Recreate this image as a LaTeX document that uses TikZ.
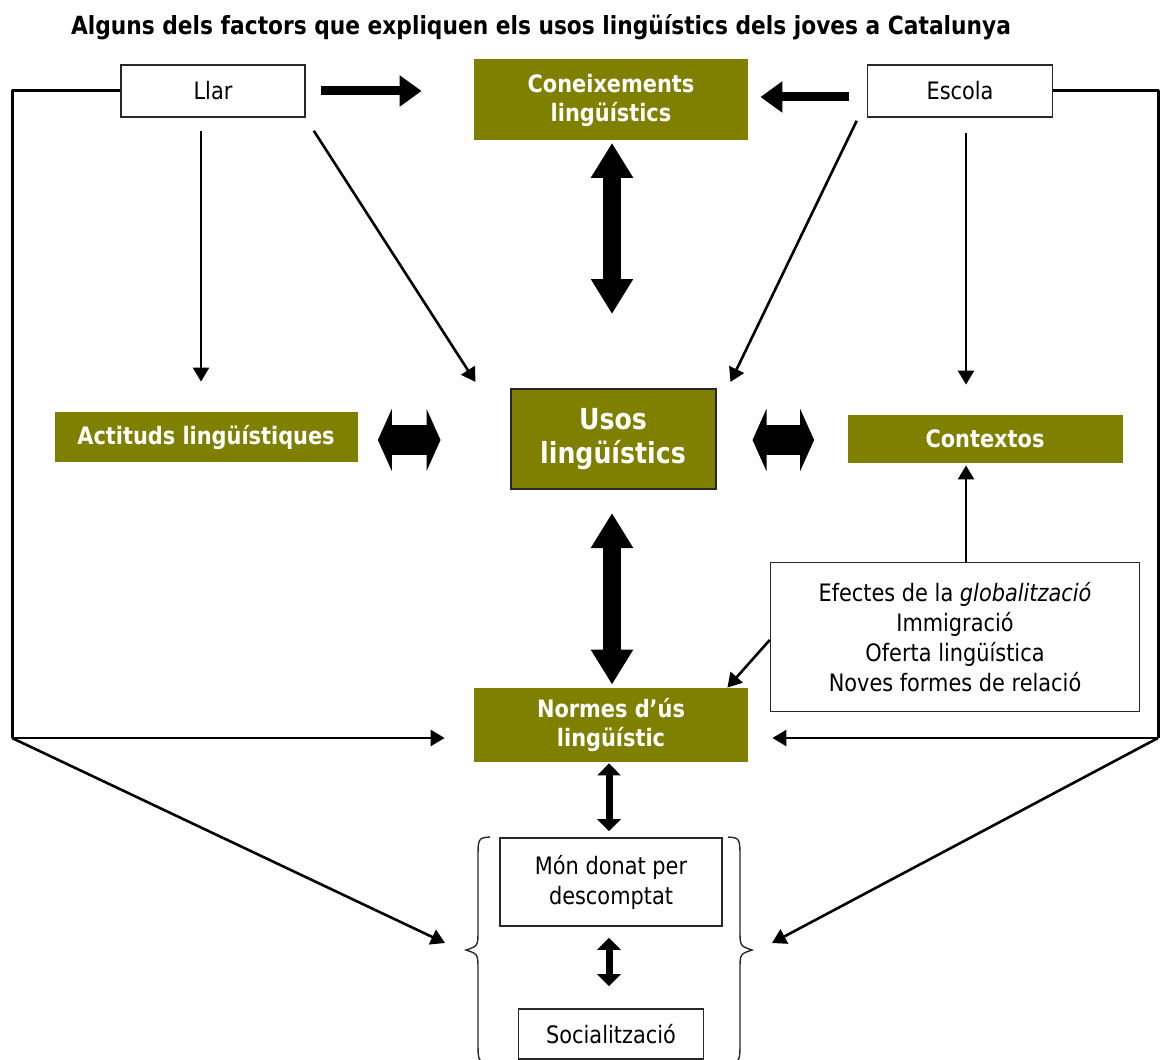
\documentclass[tikz,border=0pt]{standalone}
\usepackage{fontspec}
\setmainfont[FakeStretch=0.87]{DejaVu Sans}
\usepackage{xcolor}
\usetikzlibrary{arrows.meta}
\definecolor{uolive}{RGB}{128,128,0}
\definecolor{uframe}{RGB}{40,40,40}

\tikzset{
	whitebox/.style={draw=uframe, line width=0.8pt, fill=white, align=center, inner sep=0pt, font=\fontsize{12}{15}\selectfont},
	olivebox/.style={fill=uolive, text=white, align=center, inner sep=0pt, font=\fontsize{12}{14.5}\selectfont\bfseries},
	frameline/.style={line width=1.5pt, line join=round},
	thinarrow/.style={line width=1.3pt, -{Triangle[length=7pt,width=8pt]}},
	fatarrow/.style={line width=4.5pt, -{Triangle[length=11pt,width=15pt]}},
	tallarrow/.style={line width=9pt, {Triangle[length=17.5pt,width=20pt]}-{Triangle[length=17.5pt,width=20pt]}},
	widearrow/.style={line width=15pt, {Triangle[length=7pt,width=31pt]}-{Triangle[length=7pt,width=31pt]}},
	smallarrow/.style={line width=3.5pt, {Triangle[length=6pt,width=11.5pt]}-{Triangle[length=6pt,width=11.5pt]}},
	curly/.style={draw=uframe, line width=0.7pt}
}

\begin{document}
\begin{tikzpicture}[x=0.5pt, y=-0.5pt]
	\useasboundingbox (0,0) rectangle (1160,1059);
	
	\node[font=\fontsize{12.5}{15}\selectfont\bfseries] (title) at (541,27) {Alguns dels factors que expliquen els usos lingüístics dels joves a Catalunya};
	
	% top row
	\node[whitebox, minimum width=92pt, minimum height=26pt] (llar) at (213,91) {Llar};
	\node[olivebox, minimum width=137pt, minimum height=40.5pt] (coneix) at (611,100) {Coneixements\\lingüístics};
	\node[whitebox, minimum width=92.5pt, minimum height=26pt] (escola) at (960,91) {Escola};
	
	% middle row
	\node[olivebox, minimum width=151.5pt, minimum height=25pt] (actituds) at (206,437) {Actituds lingüístiques};
	\node[olivebox, draw=uframe, line width=1pt, minimum width=102.5pt, minimum height=50pt, font=\fontsize{14.5}{17}\selectfont\bfseries] (usos) at (613,439) {Usos\\lingüístics};
	\node[olivebox, minimum width=137.5pt, minimum height=24pt] (contextos) at (985,439) {Contextos};
	
	\node[whitebox, minimum width=184.5pt, minimum height=74.5pt] (efectes) at (955,637) {Efectes de la \textit{globalització}\\Immigració\\Oferta lingüística\\Noves formes de relació};
	\node[olivebox, minimum width=137pt, minimum height=37pt] (normes) at (611,725) {Normes d’ús\\lingüístic};
	
	% bottom group
	\node[whitebox, minimum width=111pt, minimum height=44pt] (mon) at (611,882) {Món donat per\\descomptat};
	\node[whitebox, minimum width=92.5pt, minimum height=25pt] (social) at (611,1034) {Socialització};
	
	\draw[curly] (490,837) .. controls (478,838) .. (478,860) -- (478,930) .. controls (478,946) .. (466,950) .. controls (478,954) .. (478,970) -- (478,1040) .. controls (478,1062) .. (490,1063);
	\draw[curly] (728,837) .. controls (740,838) .. (740,860) -- (740,930) .. controls (740,946) .. (752,950) .. controls (740,954) .. (740,970) -- (740,1040) .. controls (740,1062) .. (728,1063);
	
	\coordinate (lc) at (12,738);
	\coordinate (rc) at (1158,738);
	\coordinate (lb) at (445,943);
	\coordinate (rb) at (772,943);
	
	% Llar and Escola
	\draw[fatarrow, shorten <=7.5pt, shorten >=26pt] (llar.east) -- (llar.east -| coneix.west);
	\draw[fatarrow, shorten <=9pt, shorten >=6pt] ([yshift=-3pt]escola.west) -- ([yshift=-3pt]escola.west -| coneix.east);
	\draw[thinarrow, shorten <=6.5pt, shorten >=15pt] ([xshift=-6pt]llar.south) -- ([xshift=-6pt]llar.south |- actituds.north);
	\draw[thinarrow] ([xshift=4pt,yshift=-6.5pt]llar.south east) -- ([xshift=-17pt,yshift=3pt]usos.north west);
	\draw[thinarrow] ([xshift=-5pt,yshift=-1.5pt]escola.south west) -- ([xshift=7pt,yshift=3pt]usos.north east);
	\draw[thinarrow, shorten <=7.5pt, shorten >=15pt] ([xshift=3pt]escola.south) -- ([xshift=3pt]escola.south |- contextos.north);
	
	\draw[frameline] (llar.west) -| (lc);
	\draw[frameline] (escola.east) -| (rc);
	\draw[thinarrow, shorten >=14.5pt] (lc) -- (lc -| normes.west);
	\draw[thinarrow] (lc) -- (lb);
	\draw[thinarrow, shorten >=12pt] (rc) -- (rc -| normes.east);
	\draw[thinarrow] (rc) -- (rb);
	
	% big double arrows
	\draw[tallarrow, shorten <=1pt, shorten >=37pt] ([xshift=0.5pt]coneix.south) -- ([xshift=0.5pt]coneix.south |- usos.north);
	\draw[tallarrow, shorten <=11.5pt, shorten >=1.5pt] ([xshift=-0.5pt]usos.south) -- ([xshift=-0.5pt]usos.south |- normes.north);
	\draw[widearrow, shorten <=10pt, shorten >=34.5pt] ([yshift=-1.5pt]actituds.east) -- ([yshift=-1.5pt]actituds.east -| usos.west);
	\draw[widearrow, shorten <=18pt, shorten >=16.5pt] ([yshift=-0.5pt]usos.east) -- ([yshift=-0.5pt]usos.east -| contextos.west);
	
	\draw[thinarrow, shorten >=1pt] ([xshift=5.5pt]efectes.north) -- ([xshift=5.5pt]efectes.north |- contextos.south);
	\draw[thinarrow] ([yshift=-1.5pt]efectes.west) -- ([xshift=-10.5pt]normes.north east);
	
	\draw[smallarrow, shorten <=0.5pt, shorten >=3pt] ([xshift=-1pt]normes.south) -- ([xshift=-1pt]mon.north);
	\draw[smallarrow, shorten <=5.5pt, shorten >=11pt] ([xshift=-1pt]mon.south) -- ([xshift=-1pt]social.north);
\end{tikzpicture}
\end{document}
